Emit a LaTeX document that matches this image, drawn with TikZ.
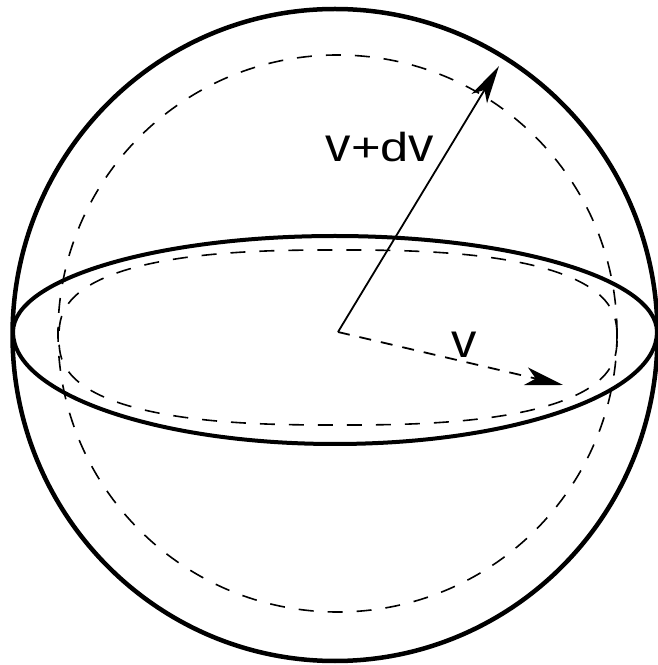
\documentclass[tikz,border=0pt]{standalone}
\usepackage{fontspec}
\setmainfont{Liberation Sans}
\usetikzlibrary{arrows.meta}
\tikzset{
  sphereline/.style={line width=4.5pt},
  equatorline/.style={line width=4pt},
  hiddenline/.style={line width=1.6pt, dash pattern=on 15pt off 14pt},
  vecline/.style={line width=1.8pt, -{Stealth[length=38pt,width=18pt,inset=10pt]}},
  vecdashed/.style={vecline, dash pattern=on 12pt off 10pt},
  lbl/.style={inner sep=0pt, anchor=base, font=\fontsize{40.5}{40}\selectfont}
}
\begin{document}
\begin{tikzpicture}[x=1pt,y=1pt]
\useasboundingbox (0,0) rectangle (657,665);
% outer sphere
\draw[sphereline] (335,330) ellipse [x radius=322.5, y radius=326];
% equator
\draw[equatorline] (13,333) arc [start angle=180, end angle=0, x radius=322, y radius=96]
  arc [start angle=0, end angle=-180, x radius=322, y radius=112] -- cycle;
% inner dashed sphere
\draw[hiddenline] (337.5,331.5) ellipse [x radius=279.5, y radius=278.5];
% inner dashed equator
\draw[hiddenline] plot[domain=1:361, samples=181, smooth]
  ({338+279*sign(cos(\x))*abs(cos(\x))^(0.77)}, {327.5+87.5*sign(sin(\x))*abs(sin(\x))^(0.77)}) -- cycle;
% vectors
\coordinate (O) at (338,333);
\coordinate (A) at (499,599);
\coordinate (B) at (563,280);
\draw[vecline] (O) -- (A);
\draw[vecdashed] (O) -- (B);
% labels
\node[lbl] (lvdv) at (380,503) {\scalebox{1.25}[1.19]{v}\scalebox{1.25}[1]{+d}\scalebox{1.25}[1.19]{v}};
\node[lbl] (lv) at (464,307) {\scalebox{1.25}[1.19]{v}};
\end{tikzpicture}
\end{document}
